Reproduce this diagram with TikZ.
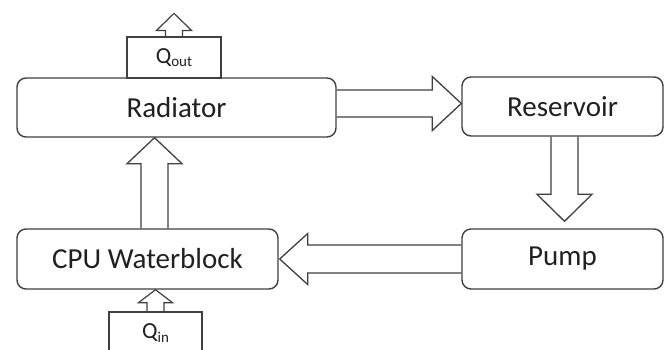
\documentclass[tikz,border=0pt]{standalone}
\usepackage{fontspec}
\setmainfont{Carlito}
\usetikzlibrary{calc}
\definecolor{ln}{HTML}{404040}
\definecolor{tx}{HTML}{202020}
\tikzset{
  box/.style={draw=ln, line width=1.4pt, rounded corners=9pt, inner sep=0pt, text=tx, font=\fontsize{29}{29}\selectfont},
  qbox/.style={draw=ln, line width=1.2pt, inner sep=0pt, text=tx},
  barrow/.style={draw=ln, line width=1.3pt, line join=miter},
}
\newcommand{\qlabel}[1]{{\fontsize{23}{23}\selectfont Q}{\fontsize{15}{15}\selectfont\raisebox{-3.5pt}{#1}}}
\begin{document}
\begin{tikzpicture}[x=1pt,y=-1pt]
\useasboundingbox[fill=white] (0,0) rectangle (668,349);
\node[box, minimum width=319pt, minimum height=59pt] (rad) at (176.5,107.5) {Radiator};
\node[box, minimum width=201pt, minimum height=59pt] (res) at (562.5,106.5) {Reservoir};
\node[box, minimum width=201pt, minimum height=60pt] (pump) at (562.5,259) {Pump};
\node[box, minimum width=261pt, minimum height=60pt] (cpu) at (147.5,259) {CPU Waterblock};
\node[qbox, minimum width=94pt, minimum height=41pt] (qout) at (174,57.5) {\qlabel{out}};
\node[text=tx, inner sep=0pt] (qin) at (155.5,333) {\qlabel{in}};
% Qin open box
\coordinate (qinbl) at (109,350);
\coordinate (qinbr) at (202,350);
\draw[ln, line width=1.2pt] (qinbl) -- (qinbl |- 0,312) -- (qinbr |- 0,312) -- (qinbr);
% Radiator -> Reservoir
\coordinate (t1) at ($(rad.east)+(0,-4)$);
\coordinate (h1) at ($(res.west)+(0,-3)$);
\draw[barrow] ($(t1)+(0,-13.5)$) -- ($(h1)+(-29,-13.5)$) -- ($(h1)+(-29,-27)$) -- (h1) -- ($(h1)+(-29,27)$) -- ($(h1)+(-29,13.5)$) -- ($(t1)+(0,13.5)$);
% Reservoir -> Pump
\coordinate (t2) at ($(res.south)+(2,0)$);
\coordinate (h2) at ($(pump.north)+(2,-7)$);
\draw[barrow] ($(t2)+(-13.5,0)$) -- ($(h2)+(-13.5,-27)$) -- ($(h2)+(-27.5,-27)$) -- (h2) -- ($(h2)+(27.5,-27)$) -- ($(h2)+(13.5,-27)$) -- ($(t2)+(13.5,0)$);
% Pump -> CPU
\coordinate (t3) at (pump.west);
\coordinate (h3) at ($(cpu.east)+(1,0)$);
\draw[barrow] ($(t3)+(0,-14)$) -- ($(h3)+(28,-14)$) -- ($(h3)+(28,-25.5)$) -- (h3) -- ($(h3)+(28,25.5)$) -- ($(h3)+(28,14)$) -- ($(t3)+(0,14)$);
% CPU -> Radiator
\coordinate (t4) at ($(cpu.north)+(7,0)$);
\coordinate (h4) at (t4 |- rad.south);
\draw[barrow] ($(t4)+(-13.5,0)$) -- ($(h4)+(-13.5,26)$) -- ($(h4)+(-27.5,26)$) -- (h4) -- ($(h4)+(27.5,26)$) -- ($(h4)+(13.5,26)$) -- ($(t4)+(13.5,0)$);
% Qout arrow
\coordinate (t5) at (qout.north);
\coordinate (h5) at ($(qout.north)+(0,-23)$);
\draw[barrow, line width=1.2pt] ($(t5)+(-8.5,0)$) -- ($(h5)+(-8.5,17)$) -- ($(h5)+(-17.5,17)$) -- (h5) -- ($(h5)+(17.5,17)$) -- ($(h5)+(8.5,17)$) -- ($(t5)+(8.5,0)$);
% Qin arrow
\coordinate (t6) at (qin |- 0,312);
\coordinate (h6) at (qin |- cpu.south);
\draw[barrow, line width=1.2pt] ($(t6)+(-8.5,0)$) -- ($(h6)+(-8.5,13)$) -- ($(h6)+(-17,13)$) -- (h6) -- ($(h6)+(17,13)$) -- ($(h6)+(8.5,13)$) -- ($(t6)+(8.5,0)$);
\end{tikzpicture}
\end{document}
